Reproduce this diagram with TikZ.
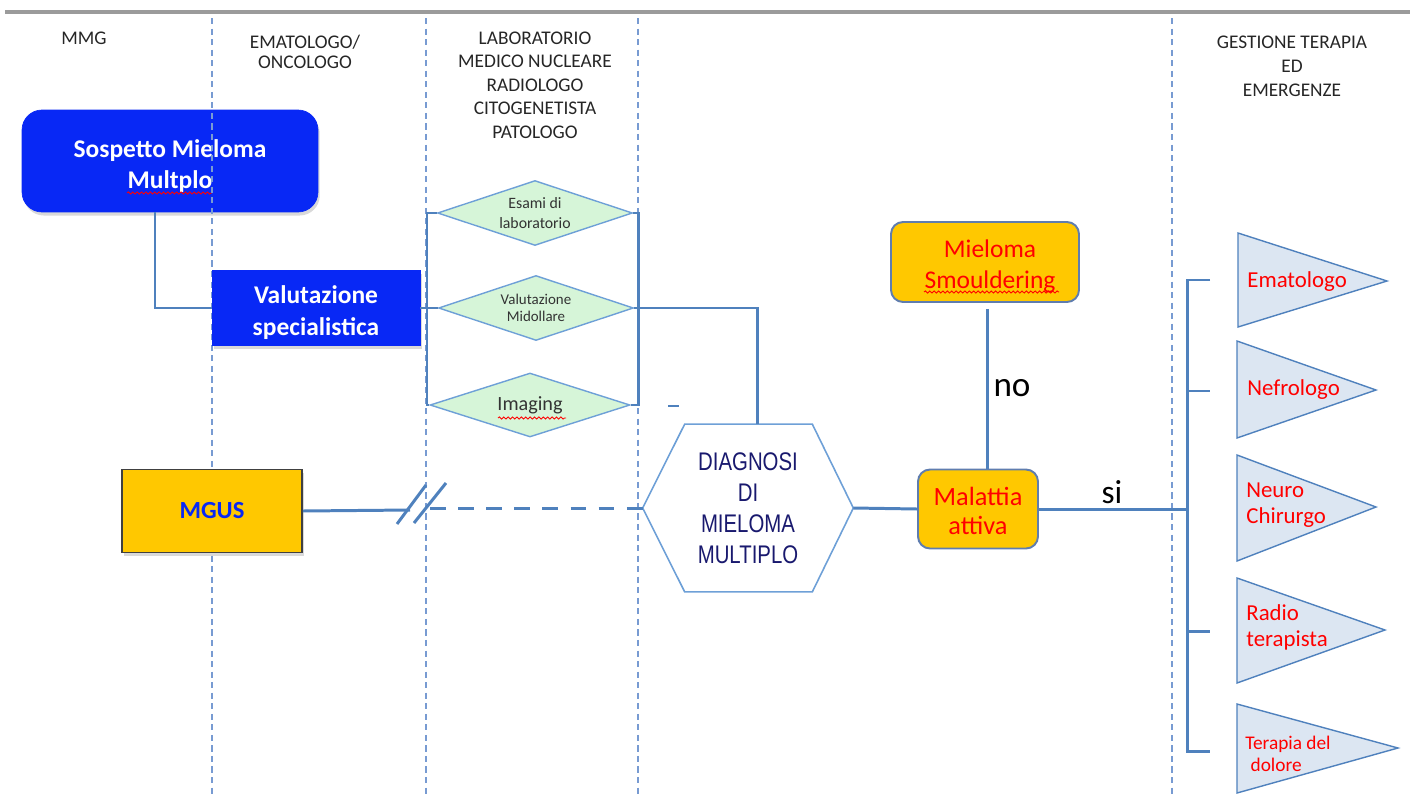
\documentclass[tikz,border=0pt]{standalone}
\usepackage{fontspec}
\setmainfont{Carlito}
\newfontfamily\narrowfont[FakeStretch=0.8]{Liberation Sans}
\usetikzlibrary{shapes.geometric,shadows,decorations.pathmorphing,calc}

\definecolor{lanec}{RGB}{120,155,210}
\definecolor{wirec}{RGB}{79,129,189}
\definecolor{deepblue}{RGB}{8,40,245}
\definecolor{mint}{RGB}{214,245,216}
\definecolor{mintedge}{RGB}{110,160,215}
\definecolor{paleblue}{RGB}{220,230,242}
\definecolor{amber}{RGB}{255,200,0}
\definecolor{navy}{RGB}{25,25,110}
\definecolor{alertred}{RGB}{255,0,0}
\definecolor{rulegray}{RGB}{155,155,155}
\definecolor{boxedge}{RGB}{95,125,175}

\tikzset{
  lanerule/.style={draw=lanec, line width=0.8pt, dash pattern=on 3.5pt off 2.5pt},
  wire/.style={draw=wirec, line width=1.7pt},
  head/.style={inner sep=0pt, align=center, text=black!85},
  bluebox/.style={fill=deepblue, draw=deepblue, inner sep=0pt},
  bluetext/.style={text=white, align=center, inner sep=0pt,
    font=\bfseries\fontsize{14.5}{18}\selectfont},
  gem/.style={diamond, aspect=3, fill=mint, draw=mintedge, line width=0.8pt,
    inner sep=0pt, align=center, text=black!80},
  amberround/.style={fill=amber, draw=boxedge, line width=1.1pt, rounded corners=0.24cm,
    inner sep=0pt},
  ambertext/.style={align=center, inner sep=0pt, text=alertred},
  tri/.style={fill=paleblue, draw=wirec, line width=0.8pt},
  tritext/.style={anchor=west, inner sep=0pt, align=left, text=alertred,
    font=\fontsize{13}{14.7}\selectfont},
  squiggle/.style={draw=alertred, line width=0.5pt, decorate,
    decoration={snake, amplitude=0.6pt, segment length=2.5pt}},
  softshadow/.style={drop shadow={shadow xshift=1pt, shadow yshift=-2pt, opacity=0.3}}
}

\begin{document}
\begin{tikzpicture}[x=0.02cm, y=-0.02cm]
\useasboundingbox (0,0) rectangle (1410,798);

% top rule
\draw[rulegray, line width=2.3pt] (5,12) -- (1410,12);

% starting box (the first lane rule runs over it)
\node[bluebox, rounded corners=0.4cm, minimum width=5.92cm, minimum height=2.04cm, softshadow]
  (sosp) at (170,161) {};
\node[bluetext] (sospt) at (170,166) {Sospetto Mieloma\\Multplo};
\draw[squiggle] (127,193) -- (212,193);

% lane rules
\foreach \lx in {212,426,638,1172}
  \draw[lanerule] (\lx,18) -- (\lx,798);

% lane headings
\node[head, font=\fontsize{11}{13}\selectfont] (hmmg) at (84,38) {MMG};
\node[head, font=\fontsize{11}{11.5}\selectfont] (hema) at (305,52) {EMATOLOGO/\\ONCOLOGO};
\node[head, font=\fontsize{11}{13.4}\selectfont] (hlab) at (535,85)
  {LABORATORIO\\MEDICO NUCLEARE\\RADIOLOGO\\CITOGENETISTA\\PATOLOGO};
\node[head, font=\fontsize{11}{13.6}\selectfont] (hges) at (1292,66)
  {GESTIONE TERAPIA\\ED\\EMERGENZE};

% specialist assessment
\node[bluebox, minimum width=4.16cm, minimum height=1.5cm, softshadow]
  (val) at (316,308) {};
\node[bluetext] (valt) at (316,312.5) {Valutazione\\specialistica};
\coordinate (kx) at (155,0);
\draw[wire] (sosp.south -| kx) |- (val.west);

% examinations
\node[gem, minimum width=3.9cm, minimum height=1.3cm, font=\fontsize{9}{11}\selectfont]
  (esami) at (535,213) {Esami di\\laboratorio};
\node[gem, minimum width=3.9cm, minimum height=1.3cm, font=\fontsize{8.5}{10}\selectfont]
  (mid) at (536,308) {Valutazione\\Midollare};
\node[gem, minimum width=4.0cm, minimum height=1.28cm, font=\fontsize{11.5}{13}\selectfont]
  (imaging) at (530,405) {Imaging};
\draw[squiggle] (498,418) -- (566,418);

\coordinate (lb) at (427,0);
\coordinate (rb) at (638,0);
\draw[wire] (val.east) -- (mid.west);
\draw[wire] (esami.west) -- (esami.west -| lb) -- (imaging.west -| lb) -- (imaging.west);
\draw[wire] (esami.east) -- (esami.east -| rb) -- (imaging.east -| rb) -- (imaging.east);
\draw[wire] (668,406) -- (679,406);

% diagnosis
\node[minimum width=4.2cm, minimum height=3.34cm, inner sep=0pt, align=center, text=navy,
  font=\narrowfont\fontsize{14.5}{17.6}\selectfont] (diag) at (748,508)
  {DIAGNOSI\\DI\\MIELOMA\\MULTIPLO};
\draw[draw=mintedge, line width=0.9pt]
  (diag.west) -- ($(diag.north west)+(42,0)$) -- ($(diag.north east)+(-41,0)$)
  -- (diag.east) -- ($(diag.south east)+(-41,0)$) -- ($(diag.south west)+(42,0)$) -- cycle;
\coordinate (dx) at (757,0);
\draw[wire] (mid.east) -- (mid.east -| dx) -- (diag.north -| dx);

% MGUS with interrupted link
\node[fill=amber, draw=black!75, line width=1pt, minimum width=3.6cm, minimum height=1.66cm,
  text=deepblue, font=\bfseries\fontsize{14}{16}\selectfont, softshadow]
  (mgus) at (212,511) {MGUS};
\coordinate (brkA) at (410,510);
\coordinate (brkB) at (430,508);
\draw[wire] (mgus.east) -- (brkA);
\draw[wire, dash pattern=on 9pt off 7pt] (brkB) -- (diag.west);
\draw[wire] (397,524) -- (426,485);
\draw[wire] (414,523) -- (446,483);

% disease state
\node[amberround, minimum width=2.4cm, minimum height=1.58cm] (mal) at (978,509) {};
\node[ambertext, font=\fontsize{15}{17}\selectfont] (malt) at (978,511) {Malattia\\attiva};
\node[amberround, minimum width=3.76cm, minimum height=1.6cm] (smo) at (985,262) {};
\node[ambertext, font=\fontsize{14.5}{17.6}\selectfont] (smot) at (990,266)
  {Mieloma\\Smouldering};
\draw[squiggle] (924,292) -- (1059,292);

\coordinate (nx) at (987,0);
\draw[wire] ($(smo.south -| nx)+(0,6)$) -- (mal.north -| nx);
\node[inner sep=0pt, font=\fontsize{20}{24}\selectfont] (lno) at (1012,388) {no};
\draw[wire] (diag.east) -- (mal.west);

\coordinate (bx) at (1187,0);
\draw[wire] (mal.east) -- (mal.east -| bx);
\node[inner sep=0pt, font=\fontsize{19}{22}\selectfont] (lsi) at (1112,492) {si};

% branch to the specialists
\coordinate (t1) at (1210,280);
\coordinate (t2) at (1210,391);
\coordinate (t4) at (1210,631);
\coordinate (t5) at (1210,751);
\draw[wire] (t1) -- (t1 -| bx) -- (t5 -| bx) -- (t5);
\draw[wire] (t2 -| bx) -- (t2);
\draw[wire] (t4 -| bx) -- (t4);

% specialists
\draw[tri] (1238,233) -- (1387,281) -- (1238,327) -- cycle;
\draw[tri] (1237,341) -- (1376,390) -- (1237,438) -- cycle;
\draw[tri] (1237,455) -- (1376,507) -- (1237,561) -- cycle;
\draw[tri] (1237,578) -- (1385,630) -- (1237,683) -- cycle;
\draw[tri] (1237,704) -- (1398,748) -- (1237,793) -- cycle;

\node[tritext] (sema) at (1247,282) {Ematologo};
\node[tritext] (snef) at (1247,390) {Nefrologo};
\node[tritext] (sneu) at (1246,505) {Neuro\\Chirurgo};
\node[tritext] (srad) at (1246,627) {Radio\\terapista};
\node[tritext, font=\fontsize{11}{12.5}\selectfont] (sdol) at (1245,754)
  {Terapia del\\\hspace*{3pt}dolore};
\end{tikzpicture}
\end{document}
